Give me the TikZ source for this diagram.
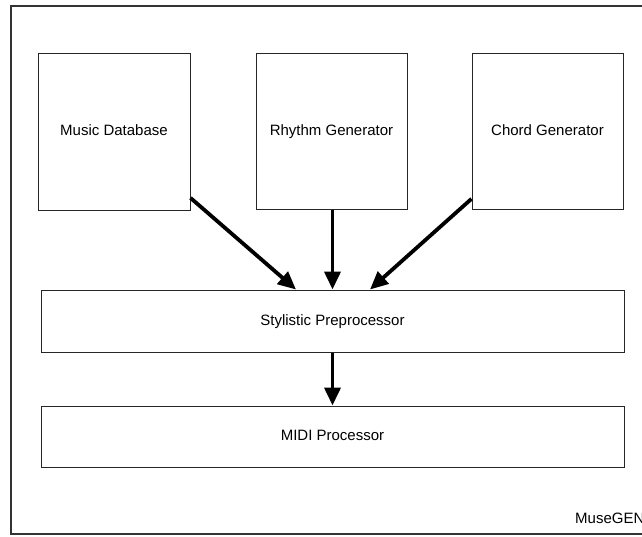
\documentclass[tikz,border=0pt]{standalone}
\usepackage{fontspec}
\setmainfont{Liberation Sans}
\usetikzlibrary{arrows.meta}
\begin{document}
\begin{tikzpicture}[x=1pt,y=-1pt,
  box/.style={draw=black!85,line width=1pt,rectangle,inner sep=0pt,
    text height=11pt,text depth=3pt,font=\fontsize{15}{18}\selectfont},
  arr/.style={line width=3.8pt,-{Triangle[length=18pt,width=16pt]}},
  frame/.style={draw=black!80,line width=1.5pt}]
\clip (0,0) rectangle (642,536);
\fill[white] (0,0) rectangle (642,536);
\draw[frame] (700,6) -- (11,6) -- (11,534) -- (700,534);
\node[box,minimum width=152pt,minimum height=157pt] (md) at (114,131.5) {Music Database};
\node[box,minimum width=151pt,minimum height=156pt] (rg) at (331.5,131) {Rhythm Generator};
\node[box,minimum width=151pt,minimum height=156pt] (cg) at (547.5,131) {Chord Generator};
\node[box,minimum width=583pt,minimum height=62pt] (sp) at (332.5,321) {Stylistic Preprocessor};
\node[box,minimum width=583pt,minimum height=61pt] (mp) at (332.5,436.5) {MIDI Processor};
\node[anchor=west,inner sep=0pt,font=\fontsize{15}{18}\selectfont] (mg) at (575,518) {MuseGEN};
\path (sp.north) ++(-36.5,0) coordinate (t1);
\path (sp.north) ++(37.5,0) coordinate (t3);
\draw[arr] (md) -- (t1);
\draw[arr] (cg) -- (t3);
\draw[arr] (rg.south -| sp.north) -- (sp.north);
\draw[arr] (sp) -- (mp);
\end{tikzpicture}
\end{document}
